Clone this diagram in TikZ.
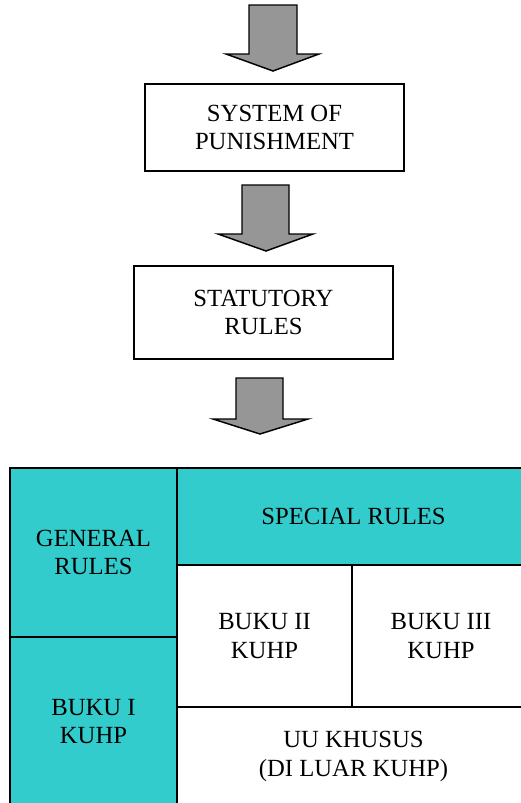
\documentclass[tikz,border=0pt]{standalone}
\usepackage{fontspec}
\setmainfont{Liberation Serif}
\definecolor{tealfill}{RGB}{51,204,204}
\definecolor{arrowgray}{RGB}{150,150,150}
\begin{document}
\begin{tikzpicture}[x=0.75pt,y=-0.75pt,
  every node/.style={font=\fontsize{18.5}{21.5}\selectfont, align=center, inner sep=0pt, outer sep=0pt},
  box/.style={draw=black, line width=1.4pt, fill=white, rectangle},
  cell/.style={draw=black, line width=1.4pt, rectangle},
  tealcell/.style={cell, fill=tealfill},
  whitecell/.style={cell, fill=white},
  blockarrow/.style={draw=black, line width=1.1pt, fill=arrowgray, line join=miter}]
\useasboundingbox (0,0) rectangle (521,803);
\clip (0,0) rectangle (521,803);
\fill[white] (0,0) rectangle (521,803);

% top boxes
\node[box, minimum width=194.25pt, minimum height=65.25pt] (sys) at (274.5,127.5) {SYSTEM OF\\PUNISHMENT};
\node[box, minimum width=194.25pt, minimum height=69.75pt] (stat) at (263.5,312.5) {STATUTORY\\RULES};

% block arrows
\draw[blockarrow] (249,5) -- (297,5) -- (297,54) -- (319,54) -- (273,71) -- (226,54) -- (249,54) -- cycle;
\draw[blockarrow] (242,185) -- (289,185) -- (289,234) -- (313,234) -- (266,251) -- (218,234) -- (242,234) -- cycle;
\draw[blockarrow] (236,378) -- (283,378) -- (283,419) -- (308,419) -- (260,434) -- (213,419) -- (236,419) -- cycle;

% grid
\node[tealcell, minimum width=125.25pt, minimum height=126.75pt] (general) at (93.5,552.5) {GENERAL\\RULES};
\node[tealcell, minimum width=125.25pt, minimum height=126.75pt] (bukuI) at (93.5,721.5) {BUKU I\\KUHP};
\node[tealcell, minimum width=264.75pt, minimum height=72.75pt] (special) at (353.5,516.5) {SPECIAL RULES};
\node[whitecell, minimum width=131.25pt, minimum height=106.5pt] (bukuII) at (264.5,636) {BUKU II\\KUHP};
\node[whitecell, minimum width=133.5pt, minimum height=106.5pt] (bukuIII) at (441,636) {BUKU III\\KUHP};
\node[whitecell, minimum width=264.75pt, minimum height=74.25pt] (uu) at (353.5,756.5) {UU KHUSUS\\(DI LUAR KUHP)};
\end{tikzpicture}
\end{document}
